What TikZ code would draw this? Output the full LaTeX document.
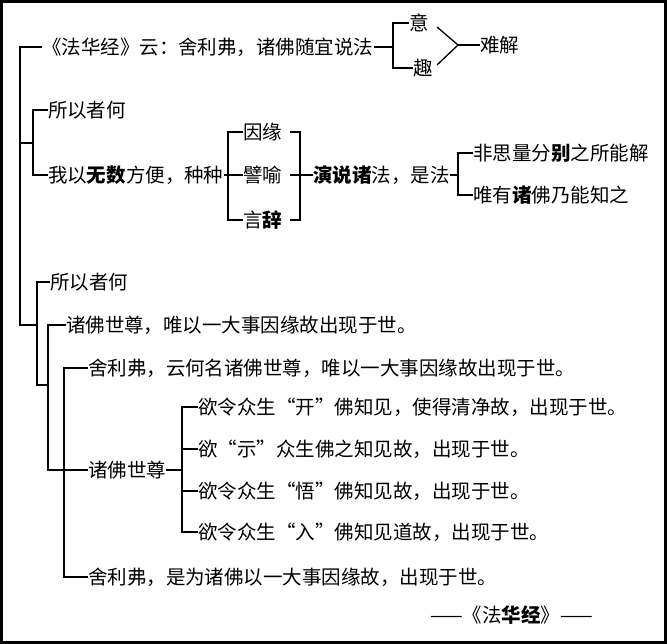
\documentclass[tikz,border=0pt]{standalone}
\usepackage{fontspec}
\newfontfamily\cjk{Noto Sans CJK SC}
\usetikzlibrary{positioning}

\begin{document}
\begin{tikzpicture}[x=1pt, y=-1pt,
	every node/.style={inner sep=0, outer sep=0},
	txt/.style = {anchor=west, font=\cjk\fontsize{19.5}{20}\selectfont},
	brk/.style = {line width=1.3pt},
	frame/.style = {line width=3pt}
]
	\useasboundingbox (0,0) rectangle (667,644);
	\draw [frame] (1.5,1.5) rectangle (665.5,642.5);

	% top line
	\node [txt] (Quote) at (42,47) {《法华经》云：舍利弗，诸佛随宜说法};
	\node [txt] (Yi) at (409,23) {意};
	\node [txt] (Qu) at (413,68) {趣};
	\node [txt] (Nanjie) at (480,45) {难解};
	\draw [brk] (Quote.east) -- (393,47);
	\draw [brk] (Yi.west) -- (393,23) -- (393,68) -- (Qu.west);
	\draw [brk] (437,27) -- (458,45) -- (437,65);
	\draw [brk] (458,45) -- (Nanjie.west);

	% second block
	\node [txt] (Why1) at (48,110) {所以者何};
	\node [txt] (Wuyi) at (48,175) {我以\textbf{无数}方便，种种};
	\node [txt] (Yinyuan) at (243,132) {因缘};
	\node [txt] (Piyu) at (243,175) {譬喻};
	\node [txt] (Yanci) at (243,220) {言\textbf{辞}};
	\node [txt] (Yanshuo) at (313,175) {\textbf{演说诸}法，是法};
	\node [txt] (Fei) at (473,153) {非思量分\textbf{别}之所能解};
	\node [txt] (Wei) at (473,195) {唯有\textbf{诸}佛乃能知之};
	\draw [brk] (Why1.west) -- (33,110) -- (33,175) -- (Wuyi.west);
	\draw [brk] (Wuyi.east) -- (228,175);
	\draw [brk] (Yinyuan.west) -- (228,132) -- (228,220) -- (Yanci.west);
	\draw [brk] (Piyu.west) -- (228,175);
	\draw [brk] (290,132) -- (300,132) -- (300,220) -- (290,220);
	\draw [brk] (290,175) -- (Yanshuo.west);
	\draw [brk] (Yanshuo.east) -- (458,175);
	\draw [brk] (Fei.west) -- (458,153) -- (458,195) -- (Wei.west);

	% third block
	\node [txt] (Why2) at (50,282) {所以者何};
	\node [txt] (Zhufo1) at (66,325) {诸佛世尊，唯以一大事因缘故出现于世。};
	\node [txt] (Shelifu1) at (88,368) {舍利弗，云何名诸佛世尊，唯以一大事因缘故出现于世。};
	\node [txt] (Zhufo2) at (88,470) {诸佛世尊};
	\node [txt] (Kai) at (198,407) {欲令众生“开”佛知见，使得清净故，出现于世。};
	\node [txt] (Shi) at (198,449) {欲“示”众生佛之知见故，出现于世。};
	\node [txt] (Wu) at (198,491) {欲令众生“悟”佛知见故，出现于世。};
	\node [txt] (Ru) at (198,532) {欲令众生“入”佛知见道故，出现于世。};
	\node [txt] (Shelifu2) at (88,577) {舍利弗，是为诸佛以一大事因缘故，出现于世。};
	\draw [brk] (Why2.west) -- (37,282) -- (37,385) -- (48,385);
	\draw [brk] (Zhufo1.west) -- (48,325) -- (48,470) -- (64,470);
	\draw [brk] (Shelifu1.west) -- (64,368) -- (64,577) -- (Shelifu2.west);
	\draw [brk] (64,470) -- (Zhufo2.west);
	\draw [brk] (Zhufo2.east) -- (182,470);
	\draw [brk] (Kai.west) -- (182,407) -- (182,532) -- (Ru.west);
	\draw [brk] (Shi.west) -- (182,449);
	\draw [brk] (Wu.west) -- (182,491);

	% main bracket
	\draw [brk] (Quote.west) -- (20,47) -- (20,325) -- (37,325);
	\draw [brk] (20,143) -- (33,143);

	\node [txt] (Source) at (430,615) {——《法\textbf{华经}》——};
\end{tikzpicture}
\end{document}
